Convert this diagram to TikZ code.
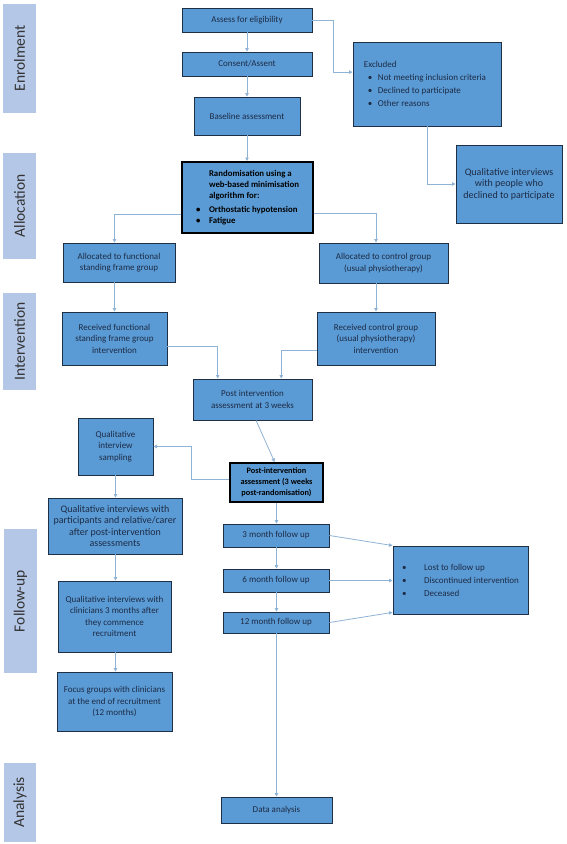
\documentclass[tikz,border=0pt]{standalone}
\usepackage{fontspec}
\usepackage{graphicx}
\setmainfont{Carlito}
\usetikzlibrary{arrows.meta,calc}
\definecolor{boxfill}{HTML}{5B9BD5}
\definecolor{boxline}{HTML}{1F2F46}
\definecolor{sidefill}{HTML}{B4C7E7}
\definecolor{arr}{HTML}{8FB3D4}
\definecolor{txt}{HTML}{1C2B45}
\newcommand{\bx}[7]{\node[#2, minimum width={(#5)-(#3)}, minimum height={(#6)-(#4)}] (#1) at ({((#3)+(#5))/2},{((#4)+(#6))/2}) {#7};}
\begin{document}
\begin{tikzpicture}[x=1pt,y=-1pt,
 box/.style={draw=boxline, line width=0.9pt, fill=boxfill, text=txt, font=\fontsize{9}{11.5}\selectfont, align=center, inner sep=0pt},
 bigtext/.style={font=\fontsize{10}{11.5}\selectfont},
 listtext/.style={font=\fontsize{9}{13}\selectfont},
 boldbox/.style={box, draw=black, line width=2pt, text=black, font=\fontsize{8.3}{11}\selectfont\bfseries},
 side/.style={fill=sidefill, inner sep=0pt, font=\fontsize{15.5}{17}\selectfont, text=black!80},
 arrow/.style={draw=arr, line width=0.8pt, -{Triangle[length=3.5pt,width=3.5pt]}},
]
\useasboundingbox (0,0) rectangle (567,844);
% side labels
\bx{sEnrol}{side}{3}{4}{36}{113}{\rotatebox{90}{Enrolment}}
\bx{sAlloc}{side}{3}{153}{36}{259}{\rotatebox{90}{Allocation}}
\bx{sInterv}{side}{3}{293}{36}{390}{\rotatebox{90}{Intervention}}
\bx{sFollow}{side}{4}{529}{37}{673}{\rotatebox{90}{Follow-up}}
\bx{sAnal}{side}{4}{763}{36}{842}{\rotatebox{90}{Analysis}}
% boxes
\bx{assess}{box}{182}{8}{312}{32}{Assess for eligibility}
\bx{consent}{box}{182}{52}{312}{76}{Consent/Assent}
\bx{baseline}{box}{194}{97}{300}{135}{Baseline assessment}
\bx{excl}{box,listtext,align=left}{353}{42}{501}{126}{\hspace*{-4pt}Excluded\\
 \makebox[10pt][l]{\textbullet}Not meeting inclusion criteria\\
 \makebox[10pt][l]{\textbullet}Declined to participate\\
 \makebox[10pt][l]{\textbullet}Other reasons}
\bx{qdecl}{box,bigtext}{456}{145}{562}{223}{Qualitative interviews\\with people who\\declined to participate}
\bx{rand}{boldbox,font=\fontsize{8.8}{11}\selectfont\bfseries,align=left}{182}{162}{313}{233}{\hspace*{13pt}Randomisation using a\\
 \hspace*{13pt}web-based minimisation\\
 \hspace*{13pt}algorithm for:\\[2.5pt]
 \makebox[13pt][l]{\textbullet}Orthostatic hypotension\\
 \makebox[13pt][l]{\textbullet}Fatigue}
\bx{allocF}{box}{63}{243}{175}{282}{Allocated to functional\\standing frame group}
\bx{allocC}{box}{319}{243}{448}{283}{Allocated to control group\\(usual physiotherapy)}
\bx{recF}{box}{62}{312}{167}{365}{Received functional\\standing frame group\\intervention}
\bx{recC}{box}{317}{312}{435}{365}{Received control group\\(usual physiotherapy)\\intervention}
\bx{pi}{box}{193}{379}{312}{420}{Post intervention\\assessment at 3 weeks}
\bx{qs}{box}{78}{418}{153}{475}{Qualitative\\interview\\sampling}
\bx{bold}{boldbox}{230}{463}{323}{502}{Post-intervention\\assessment (3 weeks\\post-randomisation)}
\bx{qp}{box,bigtext}{48}{498}{182}{554}{Qualitative interviews with\\participants and relative/carer\\after post-intervention\\assessments}
\bx{mthree}{box}{223}{524}{329}{547}{3 month follow\ up}
\bx{msix}{box}{223}{569}{329}{592}{6 month follow\ up}
\bx{mtwelve}{box}{223}{612}{329}{633}{12 month follow\ up}
\bx{lost}{box,listtext,align=left}{393}{546}{528}{614}{\makebox[22pt][l]{\textbullet}Lost to follow up\\
 \makebox[22pt][l]{\textbullet}Discontinued intervention\\
 \makebox[22pt][l]{\textbullet}Deceased}
\bx{qc}{box}{58}{581}{171}{652}{Qualitative interviews with\\clinicians 3 months after\\they commence\\recruitment}
\bx{focus}{box}{57}{672}{172}{731}{Focus groups with clinicians\\at the end of recruitment\\(12 months)}
\bx{data}{box}{221}{797}{332}{823}{Data analysis}
% connectors
\draw[arrow] (assess.south) -- (consent.north);
\draw[arrow] (consent.south) -- (baseline.north);
\draw[arrow] (baseline.south) -- (baseline.south |- rand.north);
\draw[arrow] (assess.east) -- ++(21,0) |- ($(excl.north west)!0.36!(excl.south west)$);
\draw[arrow] (excl.south) |- (qdecl.west);
\draw[arrow] ($(rand.north west)!0.73!(rand.south west)$) -| (recF.north |- allocF.north);
\draw[arrow] ($(rand.north east)!0.72!(rand.south east)$) -| (recC.north |- allocC.north);
\draw[arrow] (recF.north |- allocF.south) -- (recF.north);
\draw[arrow] (recC.north |- allocC.south) -- (recC.north);
\draw[arrow] ($(recF.north east)!0.65!(recF.south east)$) -| ($(pi.north west)!0.21!(pi.north east)$);
\draw[arrow] ($(recC.north west)!0.72!(recC.south west)$) -| ($(pi.north west)!0.74!(pi.north east)$);
\draw[arrow] ($(pi.south west)!0.53!(pi.south east)$) -- ($(bold.north west)!0.48!(bold.north east)$);
\draw[arrow] ($(bold.north west)!0.42!(bold.south west)$) -- ++(-38,0) |- (qs.east);
\draw[arrow] (qs.south) -- (qs.south |- qp.north);
\draw[arrow] (qs.south |- qp.south) -- (qs.south |- qc.north);
\draw[arrow] (qs.south |- qc.south) -- (qs.south |- focus.north);
\draw[arrow] (bold.south) -- (bold.south |- mthree.north);
\draw[arrow] (bold.south |- mthree.south) -- (bold.south |- msix.north);
\draw[arrow] (bold.south |- msix.south) -- (bold.south |- mtwelve.north);
\draw[arrow] (bold.south |- mtwelve.south) -- (bold.south |- data.north);
\draw[arrow] (mthree.east) -- (lost.north west);
\draw[arrow] (msix.east) -- (lost.west |- msix.east);
\draw[arrow] (mtwelve.east) -- ($(lost.north west)!0.97!(lost.south west)$);
\end{tikzpicture}
\end{document}
